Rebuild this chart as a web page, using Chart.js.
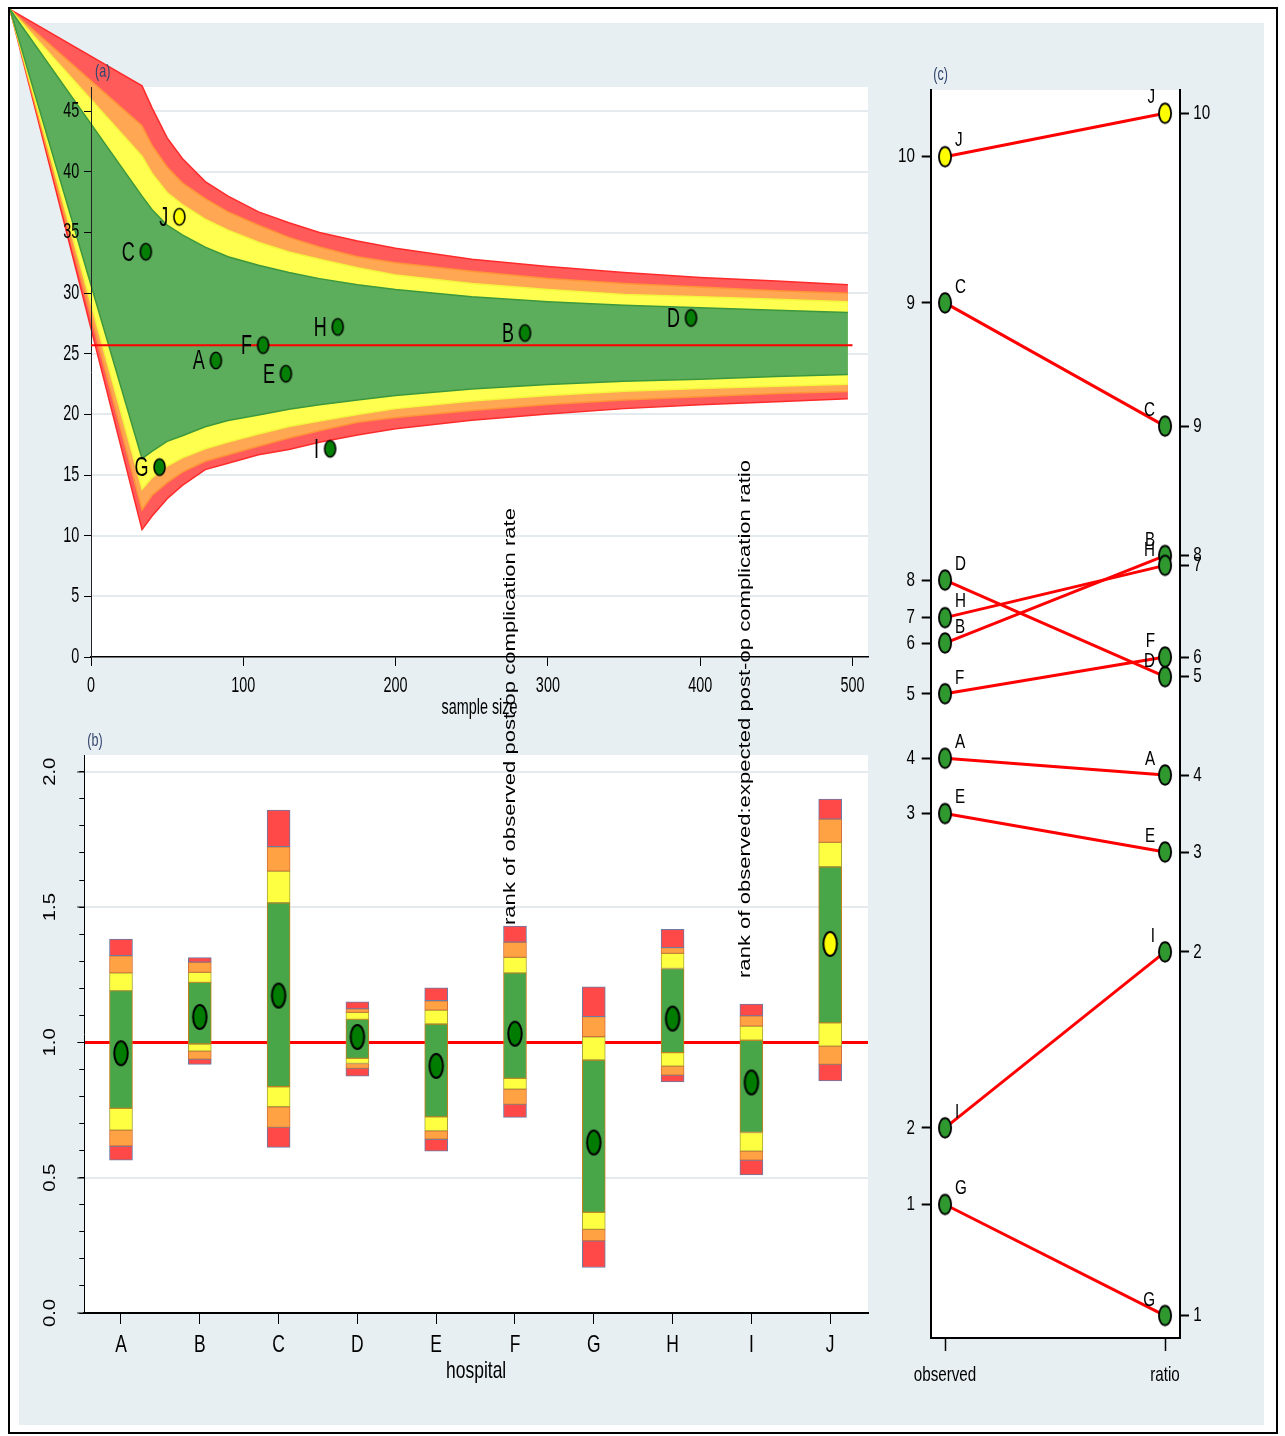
<!DOCTYPE html>
<html>
<head>
<meta charset="utf-8">
<title>Post-operative complications by hospital</title>
<script src="https://cdn.jsdelivr.net/npm/chart.js@4.4.1/dist/chart.umd.min.js"></script>
<style>
  html, body { margin: 0; padding: 0; background: #fff; }
  #page { position: relative; width: 1285px; height: 1436px; overflow: hidden; }
  #frame { position: absolute; left: 8px; top: 7px; width: 1270px; height: 1427px; box-sizing: border-box; border: 2px solid #000; }
  #region { position: absolute; left: 19px; top: 23px; width: 1245px; height: 1402px; background: #e8eff2; }
  canvas { position: absolute; }
  #axisNotes { position: absolute; left: 0; top: 0; }
</style>
</head>
<body>
<div id="page">
  <div id="frame"></div>
  <div id="region"></div>
  <canvas id="aGrid"></canvas>
  <canvas id="aFunnel"></canvas>
  <canvas id="aTop"></canvas>
  <canvas id="bChart"></canvas>
  <canvas id="cChart"></canvas>
  <svg id="axisNotes" width="1285" height="1436">
    <text transform="translate(509 716.5) rotate(-90)" text-anchor="middle" dominant-baseline="central"
          textLength="417" lengthAdjust="spacingAndGlyphs"
          font-family="'Liberation Sans', Arial, sans-serif" font-size="16" fill="#000">rank of observed post-op complication rate</text>
    <text transform="translate(744 719) rotate(-90)" text-anchor="middle" dominant-baseline="central"
          textLength="518" lengthAdjust="spacingAndGlyphs"
          font-family="'Liberation Sans', Arial, sans-serif" font-size="16" fill="#000">rank of observed:expected post-op complication ratio</text>
  </svg>
</div>
<script>
// ---------------- data ----------------
const hospitals    = ['A', 'B', 'C', 'D', 'E', 'F', 'G', 'H', 'I', 'J'];
const sampleSize   = [82, 285, 36, 394, 128, 113, 45, 162, 157, 58];
const observedRate = [24.45, 26.72, 33.42, 27.96, 23.36, 25.72, 15.66, 27.22, 17.17, 36.30];
const overallRate  = 25.7;
const benchmarkSpan = [0, 500];
const oeRatio      = [0.960, 1.094, 1.173, 1.020, 0.913, 1.032, 0.630, 1.088, 0.852, 1.364];
const rankObserved = [4, 6, 9, 8, 3, 5, 1, 7, 2, 10];
const rankRatio    = [4, 8, 9, 5, 3, 6, 1, 7, 2, 10];
const alertZone    = ['green', 'green', 'green', 'green', 'green', 'green', 'green', 'green', 'green', 'yellow'];

// funnel limits by sample size; all limits meet at the apex (first entry)
const funnelN        = [-53.2, 33.5, 40, 50, 60, 75, 90, 110, 130, 150, 175, 200, 250, 300, 350, 400, 450, 497];
const funnelUpper99  = [53.4, 47.1, 45.3, 42.8, 41.1, 39.2, 38.0, 36.7, 35.8, 35.0, 34.3, 33.7, 32.8, 32.2, 31.7, 31.3, 31.0, 30.7];
const funnelUpper95  = [53.4, 43.8, 42.2, 40.4, 39.1, 37.8, 36.7, 35.6, 34.6, 33.8, 33.0, 32.5, 31.8, 31.2, 30.8, 30.5, 30.2, 30.0];
const funnelUpper90  = [53.4, 41.3, 39.9, 38.3, 37.3, 36.1, 35.2, 34.2, 33.4, 32.8, 32.1, 31.5, 30.8, 30.3, 29.9, 29.7, 29.5, 29.3];
const funnelUpper80  = [53.4, 38.0, 36.9, 35.6, 34.8, 33.8, 33.0, 32.3, 31.7, 31.2, 30.7, 30.3, 29.7, 29.3, 29.0, 28.8, 28.6, 28.4];
const funnelLower80  = [53.4, 16.35, 16.96, 17.78, 18.24, 18.98, 19.5, 19.96, 20.42, 20.8, 21.2, 21.56, 22.1, 22.46, 22.73, 22.91, 23.12, 23.3];
const funnelLower90  = [53.4, 13.84, 14.77, 15.75, 16.42, 17.17, 17.72, 18.39, 19.0, 19.45, 20.0, 20.48, 21.11, 21.56, 21.92, 22.14, 22.32, 22.5];
const funnelLower95  = [53.4, 12.12, 13.32, 14.38, 15.25, 16.14, 16.68, 17.38, 18.05, 18.65, 19.35, 19.75, 20.33, 20.83, 21.19, 21.45, 21.72, 21.9];
const funnelLower99  = [53.4, 10.5, 11.6, 13.05, 14.15, 15.45, 15.98, 16.68, 17.11, 17.7, 18.3, 18.82, 19.52, 20.04, 20.48, 20.8, 21.04, 21.3];

// observed:expected ratio intervals per hospital
const ratioUpper99 = [1.382, 1.313, 1.858, 1.150, 1.202, 1.430, 1.205, 1.418, 1.142, 1.899];
const ratioUpper95 = [1.320, 1.296, 1.723, 1.124, 1.154, 1.370, 1.095, 1.350, 1.098, 1.825];
const ratioUpper90 = [1.257, 1.259, 1.633, 1.111, 1.119, 1.314, 1.021, 1.329, 1.060, 1.739];
const ratioUpper80 = [1.191, 1.222, 1.516, 1.085, 1.068, 1.257, 0.935, 1.273, 1.008, 1.649];
const ratioLower80 = [0.756, 0.994, 0.836, 0.941, 0.725, 0.867, 0.372, 0.962, 0.667, 1.072];
const ratioLower90 = [0.676, 0.968, 0.762, 0.922, 0.673, 0.827, 0.309, 0.912, 0.598, 0.986];
const ratioLower95 = [0.617, 0.938, 0.686, 0.904, 0.642, 0.771, 0.267, 0.879, 0.565, 0.919];
const ratioLower99 = [0.565, 0.919, 0.612, 0.875, 0.598, 0.723, 0.168, 0.854, 0.510, 0.858];

// tick labels
const sizeTicks  = [0, 100, 200, 300, 400, 500];
const rateTicks  = [0, 5, 10, 15, 20, 25, 30, 35, 40, 45];
const ratioTicks = [0, 0.5, 1, 1.5, 2];
const ratioMinorStep = 0.1;
const rankAxisLabels = ['observed', 'ratio'];

// ---------------- styling ----------------
const SANS = "'Liberation Sans', Arial, sans-serif";
const RED = '#ff5b5b', ORANGE = '#ffa753', YELLOW = '#ffff4f', GREEN = '#5cad5c';
const BAR_RED = '#ff4848', BAR_ORANGE = '#ffa244', BAR_YELLOW = '#ffff42', BAR_GREEN = '#48a548';
const TITLE_COLOUR = '#34466e';

// the figure's lettering is tall and slightly condensed
const TXT_A     = { size: 16, sx: 0.9,  sy: 1.33, colour: '#000' };
const TXT_A_PT  = { size: 18, sx: 1.0,  sy: 1.5,  colour: '#000' };
const TXT_B     = { size: 18, sx: 0.97, sy: 1.3,  colour: '#000' };
const TXT_C     = { size: 16, sx: 0.95, sy: 1.3,  colour: '#000' };
const TXT_TITLE = { size: 14, sx: 0.9,  sy: 1.3,  colour: TITLE_COLOUR };

Chart.defaults.animation = false;
Chart.defaults.responsive = false;
Chart.defaults.maintainAspectRatio = false;
Chart.defaults.events = [];
Chart.defaults.color = '#000';
Chart.defaults.font.family = SANS;
Chart.defaults.plugins.legend.display = false;
Chart.defaults.plugins.tooltip.enabled = false;

function placeCanvas(id, box) {
  const c = document.getElementById(id);
  c.width = box.width; c.height = box.height;
  c.style.left = box.left + 'px'; c.style.top = box.top + 'px';
  c.style.width = box.width + 'px'; c.style.height = box.height + 'px';
  return c;
}

function ellipseMarker(w, h, fill, lw) {
  const c = document.createElement('canvas');
  c.width = Math.ceil(w + lw + 2); c.height = Math.ceil(h + lw + 2);
  const g = c.getContext('2d');
  g.beginPath();
  g.ellipse(c.width / 2, c.height / 2, w / 2, h / 2, 0, 0, Math.PI * 2);
  g.fillStyle = fill; g.fill();
  g.lineWidth = lw; g.strokeStyle = '#000'; g.stroke();
  return c;
}

function drawText(ctx, text, x, y, st, align) {
  ctx.save();
  ctx.translate(x, y);
  ctx.scale(st.sx, st.sy);
  ctx.font = st.size + 'px ' + SANS;
  ctx.fillStyle = st.colour;
  ctx.textAlign = align;
  ctx.textBaseline = 'middle';
  ctx.fillText(text, 0, 0);
  ctx.restore();
}

const plotFill = {
  id: 'plotFill',
  beforeDraw(chart) {
    const a = chart.chartArea, ctx = chart.ctx;
    ctx.save();
    ctx.fillStyle = '#fff';
    ctx.fillRect(a.left, a.top, a.right - a.left, a.bottom - a.top);
    ctx.restore();
  }
};

function panelTitle(text, dx, dy) {
  return {
    id: 'panelTitle',
    afterDraw(chart) {
      const a = chart.chartArea;
      drawText(chart.ctx, text, a.left + dx, a.top + dy, TXT_TITLE, 'left');
    }
  };
}

function pointLabels(sets) {
  return {
    id: 'pointLabels',
    afterDatasetsDraw(chart) {
      sets.forEach(s => {
        chart.getDatasetMeta(s.dataset).data.forEach((pt, i) => {
          drawText(chart.ctx, s.labels[i], pt.x + s.dx, pt.y + s.dy, s.style, s.align);
        });
      });
    }
  };
}

// tick labels and axis titles, placed from each scale's own ticks
function axisText(specs) {
  return {
    id: 'axisText',
    afterDraw(chart) {
      const ctx = chart.ctx;
      specs.forEach(sp => {
        const s = chart.scales[sp.scale];
        s.ticks.forEach((t, i) => {
          const p = s.getPixelForValue(t.value);
          const txt = String(sp.text(t.value, i));
          if (sp.side === 'left') drawText(ctx, txt, s.right - sp.gap, p, sp.style, 'right');
          else if (sp.side === 'right') drawText(ctx, txt, s.left + sp.gap, p, sp.style, 'left');
          else drawText(ctx, txt, p, s.top + sp.gap, sp.style, 'center');
        });
        if (sp.title) drawText(ctx, sp.title, (s.left + s.right) / 2, s.top + sp.titleGap, sp.style, 'center');
      });
    }
  };
}

const tickStyle = (len, width) => ({ drawOnChartArea: false, drawTicks: true, tickLength: len, tickColor: '#000', tickWidth: width, color: '#000' });
const fromList = list => scale => { scale.ticks = list.map(v => ({ value: v })); };

// ---------------- panel (a): funnel plot ----------------
const aCanvas = { left: 10, top: 9, width: 870, height: 720 };
const aPlot = { left: 91, top: 87, right: 868, bottom: 657 };
const aRangeX = [0, 510.2], aRangeY = [0, 47.0];
const aLayout = { padding: { left: 0, top: aPlot.top - aCanvas.top, right: aCanvas.left + aCanvas.width - aPlot.right, bottom: 0 } };
const aYWidth = aPlot.left - aCanvas.left;
const aXHeight = aCanvas.top + aCanvas.height - aPlot.bottom;

// gridlines under the funnel
new Chart(placeCanvas('aGrid', aCanvas), {
  type: 'scatter',
  data: { datasets: [] },
  options: {
    layout: aLayout,
    scales: {
      x: { type: 'linear', min: aRangeX[0], max: aRangeX[1], ticks: { display: false }, grid: { display: false }, border: { display: false },
           afterFit: s => { s.height = aXHeight; } },
      y: { type: 'linear', min: aRangeY[0], max: aRangeY[1], ticks: { display: false }, border: { display: false },
           grid: { color: '#e3ebef', lineWidth: 2, drawTicks: false },
           afterBuildTicks: fromList(rateTicks.filter(v => v > 0)),
           afterFit: s => { s.width = aYWidth; } }
    }
  },
  plugins: [plotFill]
});

// control-limit bands; the drawing area spans the whole panel so the apex reaches the frame corner
const pxPerX = (aPlot.right - aPlot.left) / (aRangeX[1] - aRangeX[0]);
const pxPerY = (aPlot.bottom - aPlot.top) / (aRangeY[1] - aRangeY[0]);
const funnelView = {
  xMin: aRangeX[0] - (aPlot.left - aCanvas.left) / pxPerX,
  xMax: aRangeX[1] + (aCanvas.left + aCanvas.width - aPlot.right) / pxPerX,
  yMin: aRangeY[0] - (aCanvas.top + aCanvas.height - aPlot.bottom) / pxPerY,
  yMax: aRangeY[1] + (aPlot.top - aCanvas.top) / pxPerY
};
const bands = [
  { hi: funnelUpper99, lo: funnelLower99, fill: RED,    edge: '#ff2b2b' },
  { hi: funnelUpper95, lo: funnelLower95, fill: ORANGE, edge: '#ff9438' },
  { hi: funnelUpper90, lo: funnelLower90, fill: YELLOW, edge: '#f4f43c' },
  { hi: funnelUpper80, lo: funnelLower80, fill: GREEN,  edge: '#3d983d' }
];
const funnelSets = [];
bands.forEach((b, k) => {
  const order = 2 * (bands.length - k);
  funnelSets.push({ data: funnelN.map((n, i) => ({ x: n, y: b.hi[i] })), fill: funnelSets.length + 1,
                    backgroundColor: b.fill, borderColor: b.edge, borderWidth: 1.5, order: order });
  funnelSets.push({ data: funnelN.map((n, i) => ({ x: n, y: b.lo[i] })), fill: false,
                    borderColor: b.edge, borderWidth: 1.5, order: order - 1 });
});
new Chart(placeCanvas('aFunnel', aCanvas), {
  type: 'line',
  data: { datasets: funnelSets },
  options: {
    layout: { padding: 0 },
    elements: { point: { radius: 0 }, line: { tension: 0 } },
    scales: {
      x: { type: 'linear', display: false, min: funnelView.xMin, max: funnelView.xMax },
      y: { type: 'linear', display: false, min: funnelView.yMin, max: funnelView.yMax }
    },
    plugins: { filler: { propagate: false } }
  }
});

// axes, benchmark line and hospitals
const aMarkers = { green: ellipseMarker(11, 16.5, '#067f06', 1.6), yellow: ellipseMarker(11, 16.5, '#ffff00', 1.6) };
new Chart(placeCanvas('aTop', aCanvas), {
  type: 'scatter',
  data: {
    datasets: [
      { type: 'line', data: benchmarkSpan.map(x => ({ x: x, y: overallRate })), borderColor: '#ff0000', borderWidth: 2,
        pointRadius: 0, order: 1 },
      { data: hospitals.map((h, i) => ({ x: sampleSize[i], y: observedRate[i] })),
        pointStyle: alertZone.map(z => aMarkers[z]), pointRadius: 7, order: 0 }
    ]
  },
  options: {
    layout: aLayout,
    scales: {
      x: { type: 'linear', min: aRangeX[0], max: aRangeX[1], afterBuildTicks: fromList(sizeTicks),
           ticks: { display: false }, grid: tickStyle(9, 1), border: { color: '#000', width: 1.5 },
           afterFit: s => { s.height = aXHeight; } },
      y: { type: 'linear', min: aRangeY[0], max: aRangeY[1], afterBuildTicks: fromList(rateTicks),
           ticks: { display: false }, grid: tickStyle(7, 1), border: { color: '#222', width: 1 },
           afterFit: s => { s.width = aYWidth; } }
    }
  },
  plugins: [
    axisText([
      { scale: 'y', side: 'left', gap: 11.7, style: TXT_A, text: v => v },
      { scale: 'x', side: 'bottom', gap: 29.5, style: TXT_A, text: v => v, title: 'sample size', titleGap: 51 }
    ]),
    pointLabels([{ dataset: 1, labels: hospitals, dx: -11, dy: 1.5, align: 'right', style: TXT_A_PT }]),
    panelTitle('(a)', 4, -15)
  ]
});

// ---------------- panel (b): ratio intervals by hospital ----------------
const bCanvas = { left: 19, top: 725, width: 861, height: 685 };
const bPlot = { left: 84.3, top: 755, right: 868, bottom: 1313 };
const bRangeX = [-0.4657, 9.48], bRangeY = [0, 2.062];

const segments = [
  { lo: ratioUpper95, hi: ratioUpper99, fill: BAR_RED,    edge: '#6a7ca6' },
  { lo: ratioUpper90, hi: ratioUpper95, fill: BAR_ORANGE, edge: '#d2713c' },
  { lo: ratioUpper80, hi: ratioUpper90, fill: BAR_YELLOW, edge: '#a9a23a' },
  { lo: ratioLower80, hi: ratioUpper80, fill: BAR_GREEN,  edge: '#c97c1c' },
  { lo: ratioLower90, hi: ratioLower80, fill: BAR_YELLOW, edge: '#a9a23a' },
  { lo: ratioLower95, hi: ratioLower90, fill: BAR_ORANGE, edge: '#d2713c' },
  { lo: ratioLower99, hi: ratioLower95, fill: BAR_RED,    edge: '#6a7ca6' }
];
const bMarkers = { green: ellipseMarker(13.5, 24, '#007d00', 2), yellow: ellipseMarker(13.5, 24, '#ffff00', 2) };
const bDatasets = segments.map(s => ({
  type: 'bar',
  data: hospitals.map((h, i) => ({ x: i, y: [s.lo[i], s.hi[i]] })),
  backgroundColor: s.fill, borderColor: s.edge, borderWidth: 1, borderSkipped: false,
  barThickness: 23, grouped: false, order: 2
}));
bDatasets.push({
  type: 'scatter',
  data: hospitals.map((h, i) => ({ x: i, y: oeRatio[i] })),
  pointStyle: alertZone.map(z => bMarkers[z]), pointRadius: 8, order: 0
});

// ratio axis labels run up the page
const bRatioLabels = {
  id: 'ratioLabels',
  afterDraw(chart) {
    const s = chart.scales.y, ctx = chart.ctx;
    s.ticks.forEach(t => {
      const y = s.getPixelForValue(t.value);
      ctx.save();
      ctx.translate(s.right - 33.5, y);
      ctx.rotate(-Math.PI / 2);
      ctx.scale(1.19, 1);
      ctx.font = '17px ' + SANS;
      ctx.fillStyle = '#000';
      ctx.textAlign = 'center';
      ctx.textBaseline = 'middle';
      ctx.fillText(t.value.toFixed(1), 0, 0);
      ctx.restore();
    });
  }
};

new Chart(placeCanvas('bChart', bCanvas), {
  type: 'bar',
  data: { datasets: bDatasets },
  options: {
    layout: { padding: { left: 0, top: bPlot.top - bCanvas.top, right: bCanvas.left + bCanvas.width - bPlot.right, bottom: 0 } },
    scales: {
      x: { type: 'linear', offset: false, min: bRangeX[0], max: bRangeX[1],
           afterBuildTicks: fromList(hospitals.map((h, i) => i)),
           ticks: { display: false },
           grid: Object.assign(tickStyle(11, 1), { offset: false }), border: { color: '#000', width: 2 },
           afterFit: s => { s.height = bCanvas.top + bCanvas.height - bPlot.bottom; } },
      y: { type: 'linear', position: 'left', weight: 1, min: bRangeY[0], max: bRangeY[1],
           afterBuildTicks: fromList(ratioTicks),
           ticks: { display: false },
           grid: {
             drawOnChartArea: true, drawTicks: true, tickLength: 7, tickColor: '#000', tickWidth: 1,
             color: c => c.tick && c.tick.value === 1 ? '#ff0000' : (c.tick && c.tick.value === 0 ? 'rgba(0,0,0,0)' : '#e3ebef'),
             lineWidth: c => c.tick && c.tick.value === 1 ? 3 : 2
           },
           border: { color: '#000', width: 1 },
           afterFit: s => { s.width = bPlot.left - bCanvas.left; } },
      yMinor: { type: 'linear', position: 'left', weight: 0, min: bRangeY[0], max: bRangeY[1],
           ticks: { display: false, stepSize: ratioMinorStep, includeBounds: false },
           grid: tickStyle(5, 1), border: { display: false },
           afterFit: s => { s.width = 0; } }
    }
  },
  plugins: [
    plotFill, bRatioLabels,
    axisText([{ scale: 'x', side: 'bottom', gap: 32.5, style: TXT_B, text: v => hospitals[v], title: 'hospital', titleGap: 59 }]),
    panelTitle('(b)', 3, -14)
  ]
});

// ---------------- panel (c): rank comparison ----------------
const cCanvas = { left: 880, top: 40, width: 384, height: 1365 };
const cPlot = { left: 930.7, top: 90, right: 1180, bottom: 1338 };
const cRangeX = [-0.065, 1.068], cRangeObs = [13.03, 37.614], cRangeRatio = [0.6163, 1.3782];
const cMarkers = { green: ellipseMarker(12.2, 19.5, '#2f992f', 1.8), yellow: ellipseMarker(12.2, 19.5, '#ffff00', 1.8) };

const connectors = {
  id: 'connectors',
  beforeDatasetsDraw(chart) {
    const left = chart.getDatasetMeta(0).data, right = chart.getDatasetMeta(1).data, ctx = chart.ctx;
    ctx.save();
    ctx.strokeStyle = '#ff0000';
    ctx.lineWidth = 3;
    left.forEach((p, i) => {
      ctx.beginPath();
      ctx.moveTo(p.x, p.y);
      ctx.lineTo(right[i].x, right[i].y);
      ctx.stroke();
    });
    ctx.restore();
  }
};

new Chart(placeCanvas('cChart', cCanvas), {
  type: 'scatter',
  data: {
    datasets: [
      { yAxisID: 'yL', data: hospitals.map((h, i) => ({ x: 0, y: observedRate[i] })),
        pointStyle: alertZone.map(z => cMarkers[z]), pointRadius: 7 },
      { yAxisID: 'yR', data: hospitals.map((h, i) => ({ x: 1, y: oeRatio[i] })),
        pointStyle: alertZone.map(z => cMarkers[z]), pointRadius: 7 }
    ]
  },
  options: {
    layout: { padding: { left: 0, top: cPlot.top - cCanvas.top, right: 0, bottom: 0 } },
    scales: {
      x: { type: 'linear', min: cRangeX[0], max: cRangeX[1],
           afterBuildTicks: fromList(rankAxisLabels.map((l, i) => i)),
           ticks: { display: false }, grid: tickStyle(13, 1.5), border: { color: '#000', width: 2 },
           afterFit: s => { s.height = cCanvas.top + cCanvas.height - cPlot.bottom; } },
      yL: { type: 'linear', position: 'left', min: cRangeObs[0], max: cRangeObs[1],
            afterBuildTicks: fromList(observedRate),
            ticks: { display: false }, grid: tickStyle(9, 2), border: { color: '#000', width: 2 },
            afterFit: s => { s.width = cPlot.left - cCanvas.left; } },
      yR: { type: 'linear', position: 'right', min: cRangeRatio[0], max: cRangeRatio[1],
            afterBuildTicks: fromList(oeRatio),
            ticks: { display: false }, grid: tickStyle(9, 2), border: { color: '#000', width: 2 },
            afterFit: s => { s.width = cCanvas.left + cCanvas.width - cPlot.right; } }
    }
  },
  plugins: [
    plotFill, connectors,
    axisText([
      { scale: 'yL', side: 'left', gap: 15.7, style: TXT_C, text: (v, i) => rankObserved[i] },
      { scale: 'yR', side: 'right', gap: 13.3, style: TXT_C, text: (v, i) => rankRatio[i] },
      { scale: 'x', side: 'bottom', gap: 37.6, style: TXT_C, text: v => rankAxisLabels[v] }
    ]),
    pointLabels([
      { dataset: 0, labels: hospitals, dx: 10, dy: -16, align: 'left', style: TXT_C },
      { dataset: 1, labels: hospitals, dx: -10, dy: -15.5, align: 'right', style: TXT_C }
    ]),
    panelTitle('(c)', 2.5, -15)
  ]
});
</script>
</body>
</html>
